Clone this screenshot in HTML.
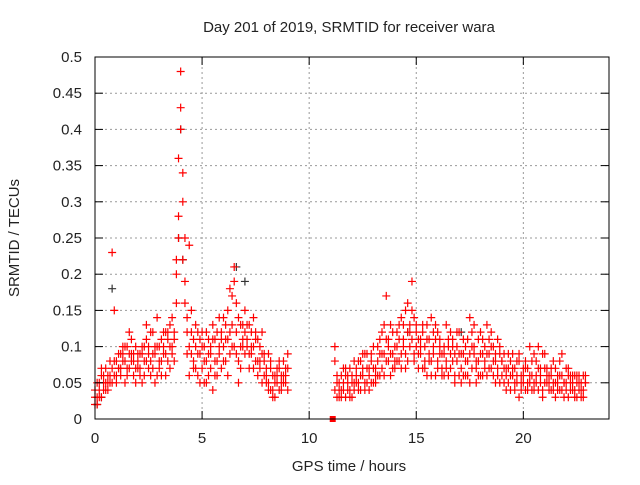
<!DOCTYPE html>
<html><head><meta charset="utf-8"><style>
body{margin:0;background:#fff;}
svg text{font-family:"Liberation Sans",Arial,sans-serif;fill:#222;}
</style></head><body>
<svg id="chart" width="640" height="480" xmlns="http://www.w3.org/2000/svg">
<rect width="640" height="480" fill="#fff"/>
<g id="grid"></g>
<g id="marks"></g>
<rect x="95" y="57" width="514" height="362" fill="none" stroke="#000" stroke-width="1"/>
<g id="ticks"></g>
<text x="349" y="32" font-size="15" text-anchor="middle">Day 201 of 2019, SRMTID for receiver wara</text>
<text x="349" y="471" font-size="15" text-anchor="middle">GPS time / hours</text>
<text transform="translate(19,238) rotate(-90)" font-size="15" text-anchor="middle">SRMTID / TECUs</text>
</svg>
<script>
const xTicks=[0,5,10,15,20];
const yTicks=[0,0.05,0.1,0.15,0.2,0.25,0.3,0.35,0.4,0.45,0.5];
const yTickLabels=["0","0.05","0.1","0.15","0.2","0.25","0.3","0.35","0.4","0.45","0.5"];
const hours=[0.0,0.1,0.2,0.3,0.4,0.5,0.6,0.7,0.8,0.9,1.0,1.1,1.2,1.3,1.4,1.5,1.6,1.7,1.8,1.9,2.0,2.1,2.2,2.3,2.4,2.5,2.6,2.7,2.8,2.9,3.0,3.1,3.2,3.3,3.4,3.5,3.6,3.7,3.8,3.9,4.0,4.1,4.2,4.3,4.4,4.5,4.6,4.7,4.8,4.9,5.0,5.1,5.2,5.3,5.4,5.5,5.6,5.7,5.8,5.9,6.0,6.1,6.2,6.3,6.4,6.5,6.6,6.7,6.8,6.9,7.0,7.1,7.2,7.3,7.4,7.5,7.6,7.7,7.8,7.9,8.0,8.1,8.2,8.3,8.4,8.5,8.6,8.7,8.8,8.9,9.0,
11.2,11.3,11.4,11.5,11.6,11.7,11.8,11.9,12.0,12.1,12.2,12.3,12.4,12.5,12.6,12.7,12.8,12.9,13.0,13.1,13.2,13.3,13.4,13.5,13.6,13.7,13.8,13.9,14.0,14.1,14.2,14.3,14.4,14.5,14.6,14.7,14.8,14.9,15.0,15.1,15.2,15.3,15.4,15.5,15.6,15.7,15.8,15.9,16.0,16.1,16.2,16.3,16.4,16.5,16.6,16.7,16.8,16.9,17.0,17.1,17.2,17.3,17.4,17.5,17.6,17.7,17.8,17.9,18.0,18.1,18.2,18.3,18.4,18.5,18.6,18.7,18.8,18.9,19.0,19.1,19.2,19.3,19.4,19.5,19.6,19.7,19.8,19.9,20.0,20.1,20.2,20.3,20.4,20.5,20.6,20.7,20.8,20.9,21.0,21.1,21.2,21.3,21.4,21.5,21.6,21.7,21.8,21.9,22.0,22.1,22.2,22.3,22.4,22.5,22.6,22.7,22.8,22.9];
const seriesA=[.02,.03,.04,.03,.05,.04,.06,.05,.07,.06,.08,.07,.09,.10,.08,.07,.09,.11,.06,.07,.08,.06,.09,.10,.11,.07,.08,.12,.09,.06,.10,.08,.12,.09,.11,.13,.10,.12,.16,.25,.48,.30,.19,.14,.10,.12,.08,.13,.09,.11,.07,.10,.12,.06,.09,.13,.11,.08,.14,.12,.10,.13,.15,.09,.17,.21,.12,.08,.10,.13,.15,.11,.09,.12,.10,.08,.11,.07,.09,.06,.07,.05,.08,.04,.06,.05,.07,.06,.08,.05,.07,
.10,.05,.03,.06,.04,.07,.05,.03,.06,.04,.07,.05,.08,.06,.04,.09,.07,.05,.10,.06,.08,.11,.07,.09,.17,.10,.06,.12,.08,.10,.13,.09,.11,.15,.08,.12,.19,.14,.10,.11,.09,.13,.07,.11,.08,.14,.10,.06,.12,.09,.07,.10,.13,.06,.09,.11,.05,.08,.12,.07,.09,.06,.11,.14,.07,.10,.05,.08,.12,.06,.08,.13,.07,.10,.06,.09,.11,.05,.08,.07,.06,.09,.04,.07,.05,.08,.03,.06,.05,.07,.04,.10,.06,.05,.08,.04,.07,.09,.05,.06,.04,.07,.05,.03,.06,.08,.04,.05,.07,.03,.05,.04,.06,.03,.05,.04,.06,.05];
const seriesB=[.03,.02,.05,.06,.04,.07,.05,.08,.23,.15,.06,.09,.07,.08,.10,.06,.12,.08,.09,.10,.07,.09,.05,.08,.13,.10,.06,.09,.10,.14,.07,.11,.09,.06,.12,.10,.14,.08,.20,.36,.43,.34,.25,.09,.06,.15,.11,.07,.12,.05,.10,.05,.08,.11,.07,.04,.06,.12,.09,.07,.14,.08,.11,.18,.13,.10,.16,.05,.13,.10,.09,.13,.07,.10,.14,.12,.08,.10,.05,.08,.05,.09,.04,.06,.03,.07,.04,.05,.06,.07,.04,
.08,.03,.05,.04,.07,.03,.06,.04,.05,.08,.05,.08,.04,.07,.09,.05,.06,.08,.05,.07,.10,.06,.09,.13,.08,.11,.09,.07,.10,.12,.08,.14,.10,.07,.16,.13,.11,.08,.13,.09,.11,.07,.10,.13,.09,.06,.12,.11,.08,.10,.09,.06,.08,.11,.07,.10,.09,.12,.06,.09,.06,.10,.08,.05,.12,.09,.07,.11,.06,.09,.10,.06,.09,.12,.08,.05,.07,.10,.06,.09,.04,.07,.06,.09,.04,.06,.08,.05,.07,.04,.07,.05,.08,.04,.06,.10,.05,.04,.07,.05,.06,.04,.08,.05,.04,.06,.09,.03,.05,.06,.04,.06,.03,.05,.06,.03,.04,.05];
const seriesC=[.04,.05,.03,.07,.06,.05,.04,.06,.05,.08,.05,.07,.06,.09,.05,.10,.07,.09,.08,.05,.09,.07,.10,.06,.08,.09,.12,.07,.05,.10,.08,.06,.10,.12,.08,.07,.09,.11,.22,.28,.40,.22,.16,.12,.24,.09,.07,.10,.06,.09,.12,.08,.05,.09,.10,.11,.08,.06,.10,.11,.08,.11,.06,.12,.10,.19,.09,.14,.07,.11,.12,.10,.13,.09,.07,.11,.06,.08,.12,.09,.06,.04,.07,.03,.05,.06,.08,.04,.05,.06,.09,
.04,.06,.04,.03,.05,.06,.04,.07,.03,.05,.06,.04,.06,.09,.05,.07,.04,.09,.07,.05,.06,.09,.12,.06,.11,.08,.13,.09,.07,.08,.11,.07,.13,.09,.12,.10,.15,.09,.12,.07,.10,.12,.08,.06,.11,.08,.09,.13,.07,.11,.06,.09,.07,.10,.12,.08,.06,.10,.09,.05,.11,.08,.06,.09,.10,.13,.08,.06,.09,.11,.07,.09,.11,.07,.10,.08,.06,.09,.08,.05,.07,.05,.08,.06,.07,.05,.09,.04,.06,.08,.05,.06,.04,.09,.05,.07,.06,.03,.09,.07,.05,.06,.04,.07,.05,.04,.06,.05,.04,.07,.06,.05,.04,.06,.04,.05,.03,.06];
const darkHours=[0.1,0.3,3.9,4.0,4.1,6.6,7.0,14.6,17.1,0.8];
const darkValues=[0.02,0.03,0.25,0.40,0.22,0.21,0.19,0.12,0.12,0.18];
const squareHours=[11.1];
const squareValues=[0];

const X0=95,X1=609,Y0=419,Y1=57,XMAX=24,YMAX=0.5;
const xs=h=>X0+(X1-X0)*h/XMAX;
const ys=v=>Y0-(Y0-Y1)*v/YMAX;
const NS="http://www.w3.org/2000/svg";
function mk(tag,parent){const e=document.createElementNS(NS,tag);parent.appendChild(e);return e;}
const grid=document.getElementById('grid'),ticks=document.getElementById('ticks'),marks=document.getElementById('marks');
xTicks.forEach(t=>{
  const x=xs(t);
  if(t>0){const g=mk('line',grid);g.setAttribute('x1',x);g.setAttribute('x2',x);g.setAttribute('y1',Y1);g.setAttribute('y2',Y0);g.setAttribute('stroke','#999');g.setAttribute('stroke-dasharray','2,3');
  
  }
  [[Y0,Y0-8],[Y1,Y1+8]].forEach(p=>{const l=mk('line',ticks);l.setAttribute('x1',x);l.setAttribute('x2',x);l.setAttribute('y1',p[0]);l.setAttribute('y2',p[1]);l.setAttribute('stroke','#000');
  
  });
  const tx=mk('text',ticks);tx.textContent=t;tx.setAttribute('x',x);tx.setAttribute('y',Y0+24);tx.setAttribute('font-size','15');tx.setAttribute('text-anchor','middle');
  
  
});
yTicks.forEach((t,i)=>{
  const y=ys(t);
  if(t>0&&t<YMAX){const g=mk('line',grid);g.setAttribute('x1',X0);g.setAttribute('x2',X1);g.setAttribute('y1',y);g.setAttribute('y2',y);g.setAttribute('stroke','#999');g.setAttribute('stroke-dasharray','2,3');
  
  }
  [[X0,X0+8],[X1,X1-8]].forEach(p=>{const l=mk('line',ticks);l.setAttribute('x1',p[0]);l.setAttribute('x2',p[1]);l.setAttribute('y1',y);l.setAttribute('y2',y);l.setAttribute('stroke','#000');
  
  });
  const tx=mk('text',ticks);tx.textContent=yTickLabels[i];tx.setAttribute('x',X0-13);tx.setAttribute('y',y+5);tx.setAttribute('font-size','15');tx.setAttribute('text-anchor','end');
  
  
});
function plus(h,v,color,name){
  const x=xs(h),y=ys(v);
  const p=mk('path',marks);
  p.setAttribute('d',`M${x-4},${y}H${x+4}M${x},${y-4}V${y+4}`);
  p.setAttribute('stroke',color);p.setAttribute('stroke-width','1.2');p.setAttribute('fill','none');
  
  
}
darkHours.forEach((h,i)=>plus(h,darkValues[i],'#333','dark-point'));
[seriesA,seriesB,seriesC].forEach(s=>hours.forEach((h,i)=>plus(h,s[i],'#f00','srmtid-point')));
squareHours.forEach((h,i)=>{const r=mk('rect',marks);r.setAttribute('x',xs(h)-3);r.setAttribute('y',ys(squareValues[i])-3);r.setAttribute('width',6);r.setAttribute('height',6);r.setAttribute('fill','#f00');
  
  });
</script>
</body></html>
